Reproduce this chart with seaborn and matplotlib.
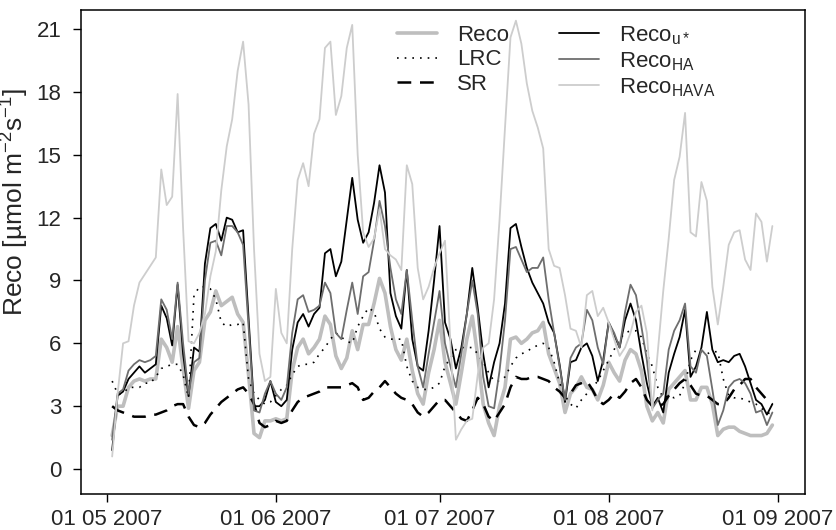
import pandas as pd
import matplotlib
matplotlib.use("Agg")
import matplotlib.pyplot as plt
import matplotlib.dates as mdates
import seaborn as sns

# Fechas diarias (2 mayo - 31 agosto 2007)
fechas = pd.date_range("2007-05-02", "2007-08-31", freq="D")

reco = [1.6, 3.0, 3.0, 3.9, 4.2, 4.3, 4.2, 4.3, 4.3, 6.2,
        5.8, 5.1, 6.8, 4.8, 2.9, 4.7, 5.1, 7.1, 7.5, 8.5,
        7.8, 8.0, 8.2, 7.4, 7.0, 4.5, 1.7, 1.5, 2.3, 2.3,
        2.4, 2.3, 2.4, 4.7, 5.8, 6.2, 5.5, 5.8, 6.2, 7.3,
        6.9, 5.4, 4.8, 5.3, 6.6, 5.7, 6.9, 6.9, 7.9, 9.1,
        8.4, 6.8, 5.7, 5.2, 6.2, 4.7, 3.6, 3.1, 4.6, 5.7,
        7.1, 5.1, 4.1, 3.1, 4.6, 6.2, 7.3, 5.4, 3.1, 2.2,
        1.6, 3.0, 3.9, 6.2, 6.3, 6.0, 6.2, 6.5, 6.6, 7.0,
        5.5, 4.8, 4.1, 2.7, 3.6, 3.9, 4.4, 3.9, 3.8, 3.3,
        4.0, 5.1, 4.6, 4.2, 5.2, 5.7, 5.5, 4.7, 3.0, 2.3,
        2.7, 2.2, 3.8, 4.1, 4.4, 4.7, 3.3, 3.3, 3.9, 3.9,
        3.1, 1.6, 1.9, 2.0, 2.0, 1.8, 1.7, 1.6, 1.6, 1.6,
        1.7, 2.1]

lrc = [4.2, 3.6, 3.6, 3.9, 3.9, 3.9, 4.1, 4.1, 4.4, 4.8,
       4.9, 5.0, 5.0, 4.5, 3.4, 8.3, 8.7, 8.7, 8.6, 8.1,
       7.0, 6.8, 6.9, 6.9, 7.0, 4.3, 3.6, 3.3, 3.1, 3.2,
       3.5, 3.8, 4.0, 4.5, 4.9, 5.0, 5.0, 5.1, 5.5, 5.8,
       6.2, 6.5, 6.3, 6.1, 6.0, 6.8, 7.3, 7.7, 7.5, 6.7,
       6.3, 6.2, 6.2, 6.2, 4.9, 4.2, 3.9, 3.8, 3.8, 3.9,
       4.1, 4.9, 5.3, 5.7, 5.8, 5.8, 5.8, 5.5, 5.1, 4.6,
       4.2, 4.2, 4.4, 4.9, 5.3, 5.5, 5.6, 5.8, 5.9, 6.0,
       5.8, 5.1, 4.1, 3.5, 3.1, 2.9, 3.3, 3.6, 3.9, 4.2,
       4.7, 5.2, 5.7, 6.2, 6.5, 6.6, 6.6, 6.3, 5.5, 4.9,
       3.9, 3.4, 3.5, 3.4, 3.5, 4.1, 5.2, 5.7, 5.6, 5.5,
       5.6, 5.6, 4.3, 3.5, 3.4, 3.4, 3.3, 3.2, 3.1, 2.9,
       2.7, 2.6]

sr = [3.0, 2.8, 2.7, 2.6, 2.5, 2.5, 2.5, 2.6, 2.6, 2.7,
      2.8, 3.0, 3.1, 3.1, 2.5, 2.1, 2.0, 2.2, 2.6, 2.9,
      3.2, 3.4, 3.6, 3.8, 3.9, 3.6, 3.1, 2.2, 2.0, 2.1,
      2.3, 2.2, 2.3, 2.8, 3.2, 3.4, 3.5, 3.6, 3.7, 3.9,
      3.9, 3.9, 3.9, 4.0, 4.1, 3.9, 3.3, 3.4, 3.7, 3.9,
      4.2, 3.9, 3.6, 3.4, 3.3, 3.1, 2.7, 2.5, 2.7, 3.0,
      3.3, 3.3, 3.0, 2.7, 2.4, 2.3, 2.8, 3.4, 3.1, 2.5,
      2.3, 2.7, 3.1, 3.9, 4.4, 4.3, 4.3, 4.4, 4.4, 4.3,
      4.2, 3.9, 3.7, 3.4, 3.6, 4.0, 4.1, 4.2, 3.8, 3.3,
      3.1, 3.3, 3.6, 3.4, 3.7, 4.1, 4.3, 3.9, 3.3, 3.0,
      3.0, 3.1, 3.5, 3.8, 4.1, 4.3, 4.0, 3.6, 3.5, 3.5,
      3.3, 3.1, 3.1, 3.4, 3.8, 4.0, 4.3, 4.3, 3.9, 3.6,
      3.3, 3.1]

reco_ustar = [0.9, 3.5, 3.7, 4.3, 4.6, 4.9, 4.6, 4.8, 5.0, 7.8,
              7.2, 5.9, 8.8, 5.5, 3.5, 5.8, 5.6, 9.8, 11.5, 11.7,
              10.9, 12.0, 11.9, 11.3, 11.4, 7.2, 3.0, 3.0, 3.3, 4.2,
              3.2, 3.0, 3.3, 5.7, 7.0, 7.4, 6.8, 7.4, 7.7, 10.3,
              10.5, 9.2, 9.9, 11.9, 13.9, 11.9, 10.8, 11.3, 12.7, 14.5,
              13.2, 8.4, 7.3, 6.7, 9.5, 6.2, 4.9, 4.7, 6.6, 9.0,
              11.6, 7.0, 6.2, 4.8, 5.8, 7.4, 9.6, 7.7, 5.5, 3.9,
              5.1, 6.0, 7.9, 11.5, 11.7, 10.6, 9.6, 8.9, 8.4, 7.9,
              7.0, 6.5, 5.0, 3.2, 5.1, 5.2, 5.8, 6.0, 5.4, 4.2,
              5.2, 7.0, 6.4, 5.8, 7.1, 7.9, 7.1, 5.5, 4.1, 3.0,
              3.4, 2.7, 4.6, 5.5, 6.3, 7.6, 4.4, 4.9, 5.8, 7.5,
              5.7, 5.1, 5.2, 5.1, 5.4, 5.5, 4.9, 4.1, 3.3, 3.1,
              2.6, 3.1]

reco_ha = [1.4, 3.6, 3.8, 4.7, 5.0, 5.2, 5.1, 5.2, 5.4, 8.1,
           7.6, 6.2, 8.9, 6.0, 3.6, 5.1, 5.3, 9.0, 10.8, 10.9,
           10.2, 11.6, 11.6, 11.3, 10.7, 6.8, 2.8, 2.7, 3.6, 4.2,
           3.6, 3.3, 3.9, 6.5, 8.1, 8.3, 7.5, 7.6, 7.8, 8.9,
           8.4, 6.5, 6.2, 7.6, 8.9, 7.4, 9.2, 9.4, 10.9, 12.8,
           11.6, 9.6, 8.1, 7.4, 9.5, 7.1, 4.9, 3.9, 5.5, 7.0,
           8.5, 6.0, 4.9, 3.9, 5.5, 7.4, 9.0, 7.4, 4.4, 3.0,
           2.9, 4.7, 7.1, 10.5, 10.6, 10.0, 9.4, 9.6, 9.6, 10.1,
           8.1, 6.5, 4.9, 3.3, 5.3, 5.8, 6.0, 7.6, 7.1, 5.8,
           5.0, 7.0, 6.5, 5.8, 7.5, 8.8, 8.3, 6.8, 5.2, 2.9,
           3.3, 3.6, 5.7, 6.6, 7.1, 7.9, 4.9, 4.6, 5.7, 5.4,
           3.8, 2.1, 2.8, 3.9, 4.2, 4.3, 4.1, 3.6, 2.7, 2.8,
           2.1, 2.7]

reco_hava = [0.6, 3.6, 6.0, 6.1, 7.8, 8.9, 9.3, 9.7, 10.1, 14.3,
             12.6, 13.0, 17.9, 11.5, 6.1, 6.0, 6.5, 7.4, 9.2, 10.4,
             13.3, 15.4, 16.7, 19.0, 20.4, 17.4, 10.5, 5.5, 4.2, 4.4,
             8.6, 6.5, 6.0, 10.5, 13.8, 14.6, 13.5, 16.0, 16.7, 20.1,
             20.4, 16.9, 17.8, 20.1, 21.2, 15.0, 11.3, 10.6, 11.0, 12.4,
             10.5, 10.2, 10.0, 9.5, 14.5, 13.6, 9.6, 8.1, 8.7, 9.6,
             10.3, 10.9, 6.0, 1.4, 1.9, 2.3, 2.4, 4.5, 5.8, 6.0,
             8.1, 11.9, 16.3, 20.6, 21.4, 20.3, 18.4, 17.1, 16.3, 15.3,
             10.5, 9.7, 9.6, 8.3, 6.7, 6.6, 5.8, 8.3, 8.5, 7.3,
             7.7, 7.0, 6.2, 5.4, 5.8, 6.5, 7.5, 7.8, 6.5, 2.8,
             5.6, 8.5, 11.0, 13.8, 14.9, 17.0, 11.3, 11.1, 13.7, 12.8,
             8.7, 6.9, 8.7, 10.7, 11.3, 11.4, 10.0, 9.5, 12.2, 11.8,
             9.9, 11.6]

etiquetas = ["Reco", "LRC", "SR", r"Reco$_{\mathrm{u*}}$",
             r"Reco$_{\mathrm{HA}}$", r"Reco$_{\mathrm{HAVA}}$"]
ticks_fecha = ["2007-05-01", "2007-06-01", "2007-07-01", "2007-08-01", "2007-09-01"]
yticks = [0, 3, 6, 9, 12, 15, 18, 21]

# Estilo
sns.set_style("ticks")
plt.rcParams["font.family"] = ["Liberation Sans", "DejaVu Sans"]
plt.rcParams["mathtext.fontset"] = "custom"
plt.rcParams["mathtext.rm"] = "Liberation Sans"
plt.rcParams["mathtext.it"] = "Liberation Sans:italic"
plt.rcParams["font.size"] = 16

series = [
    (reco, dict(color="#bebebe", lw=2.6, linestyle="-")),
    (lrc, dict(color="black", lw=1.2, linestyle=(0, (1, 3.6)))),
    (sr, dict(color="black", lw=1.8, linestyle=(0, (5.5, 3.5)))),
    (reco_ustar, dict(color="black", lw=1.3, linestyle="-")),
    (reco_ha, dict(color="#6e6e6e", lw=1.3, linestyle="-")),
    (reco_hava, dict(color="#cdcdcd", lw=1.3, linestyle="-")),
]

fig = plt.figure(figsize=(8.36, 5.30), dpi=100)
ax = fig.add_axes([81 / 836, 36 / 530, 724 / 836, 484 / 530])

handles = []
for (valores, estilo), etiqueta in zip(series, etiquetas):
    sns.lineplot(x=fechas, y=valores, ax=ax, legend=False, **estilo)
    handles.append(ax.get_lines()[-1])

ax.set_xlim(pd.Timestamp("2007-05-01") - pd.Timedelta(days=4.71),
            pd.Timestamp("2007-05-01") + pd.Timedelta(days=127.98))
ax.set_ylim(-1.19, 21.91)
ax.set_yticks(yticks)
ax.set_xticks(pd.to_datetime(ticks_fecha))
ax.xaxis.set_major_formatter(mdates.DateFormatter("%d %m %Y"))
ax.tick_params(axis="both", direction="out", length=6, width=1.0,
               labelsize=16, color="black")
ax.tick_params(axis="y", pad=8)
ax.tick_params(axis="x", pad=5)
for s in ax.spines.values():
    s.set_visible(True)
    s.set_linewidth(1.1)
    s.set_color("black")

ax.set_xlabel("")
ax.set_ylabel("Reco [µmol m$^{-2}$s$^{-1}$]", fontsize=19)
ax.yaxis.set_label_coords(-0.069, 0.603)

ax.legend(handles, etiquetas, ncol=2, frameon=False, loc="upper left",
          bbox_to_anchor=(0.4365, 0.971), borderpad=0, borderaxespad=0,
          handlelength=1.8, handletextpad=0.9, columnspacing=2.25,
          labelspacing=0.15, fontsize=16)

plt.savefig("out.png", dpi=100)
